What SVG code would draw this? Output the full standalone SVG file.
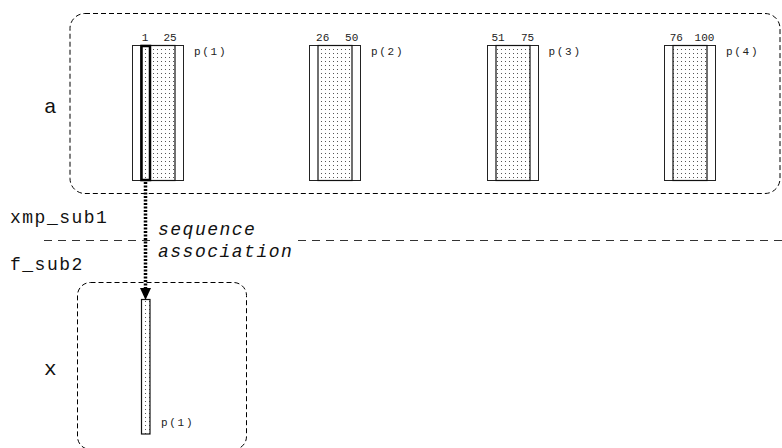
<svg xmlns="http://www.w3.org/2000/svg" width="782" height="448" viewBox="0 0 782 448">
<style>
.cont{fill:none;stroke:#000;stroke-width:1;stroke-dasharray:5 3}
.outer{fill:#fff;stroke:#222;stroke-width:1}
.inner{fill:url(#dots);stroke:#111;stroke-width:1.2}
.num{font-family:"Liberation Mono",monospace;font-size:11px;fill:#222;text-anchor:middle}
.pl{font-family:"Liberation Mono",monospace;font-size:11px;letter-spacing:1.7px;fill:#222}
.lbl{font-family:"Liberation Mono",monospace;font-size:18px;letter-spacing:1.5px;fill:#111}
.big{font-family:"Liberation Mono",monospace;font-size:21px;fill:#111}
.it{font-family:"Liberation Mono",monospace;font-size:18px;letter-spacing:1.5px;font-style:italic;fill:#111}
.sep{fill:none;stroke:#333;stroke-width:1;stroke-dasharray:8 6}
</style>
<defs>
<pattern id="dots" width="4" height="4" patternUnits="userSpaceOnUse">
<rect width="4" height="4" fill="#fff"/>
<rect x="1" y="1" width="1" height="1" fill="#555"/>
</pattern>
</defs>
<rect width="782" height="448" fill="#fff"/>

<g id="sub1">
<text class="lbl" x="10" y="223">xmp_sub1</text>
<text class="lbl" x="10" y="270">f_sub2</text>
</g>

<g id="a">
<rect class="cont" x="70" y="13.5" width="710" height="180" rx="15"/>
<text class="big" x="44" y="113">a</text>
</g>

<g id="p1">
<rect class="outer" x="132.5" y="45.5" width="51" height="135"/>
<rect class="inner" x="141" y="45.5" width="34" height="135"/>
<rect x="141.5" y="46" width="8.5" height="134" fill="none" stroke="#000" stroke-width="2.5"/>
<text class="num" x="145" y="41">1</text>
<text class="num" x="170" y="41">25</text>
<text class="pl" x="194" y="54.5">p(1)</text>
</g>

<g id="p2">
<rect class="outer" x="309.5" y="45.5" width="51" height="135"/>
<rect class="inner" x="318" y="45.5" width="34" height="135"/>
<text class="num" x="322.7" y="41">26</text>
<text class="num" x="351.7" y="41">50</text>
<text class="pl" x="371" y="54.5">p(2)</text>
</g>

<g id="p3">
<rect class="outer" x="487.5" y="45.5" width="51" height="135"/>
<rect class="inner" x="496" y="45.5" width="34" height="135"/>
<text class="num" x="498" y="41">51</text>
<text class="num" x="527.5" y="41">75</text>
<text class="pl" x="548.5" y="54.5">p(3)</text>
</g>

<g id="p4">
<rect class="outer" x="664.5" y="45.5" width="51" height="135"/>
<rect class="inner" x="673" y="45.5" width="34" height="135"/>
<text class="num" x="676.3" y="41">76</text>
<text class="num" x="704.5" y="41">100</text>
<text class="pl" x="726" y="54.5">p(4)</text>
</g>

<g id="x">
<rect class="cont" x="77.5" y="282.5" width="169" height="167" rx="13"/>
<rect class="inner" x="141.5" y="299.5" width="8.5" height="134.5" stroke-width="1"/>
<text class="big" x="44" y="375">x</text>
<text class="pl" x="161" y="426">p(1)</text>
</g>

<g id="connectors">
<line class="sep" x1="44" y1="240.5" x2="151" y2="240.5"/>
<line class="sep" x1="298" y1="240.5" x2="782" y2="240.5"/>
<line x1="145.5" y1="182" x2="145.5" y2="289" stroke="#000" stroke-width="3.5" stroke-dasharray="2 1.5"/>
<polygon points="140,288 151,288 145.5,300" fill="#000"/>
<text class="it" x="158" y="235">sequence</text>
<text class="it" x="158" y="257">association</text>
</g>
</svg>
